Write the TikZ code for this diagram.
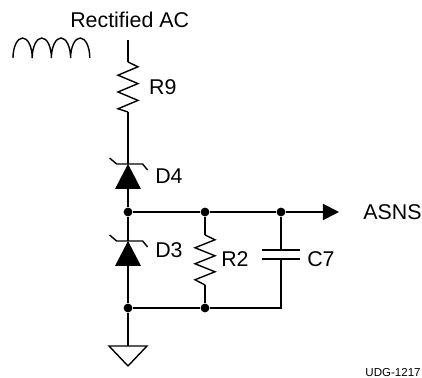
\documentclass[tikz,border=0pt]{standalone}
\usepackage{fontspec}
\setmainfont{Liberation Sans}
\usetikzlibrary{arrows.meta}
\tikzset{
  wire/.style={line width=0.045cm,color=cw0},
  thin wire/.style={line width=0.035cm,color=cw0},
  junction/.style={circle,fill=cw0,draw=none,inner sep=0pt,minimum size=0.22cm},
  tag/.style={inner sep=0pt,anchor=west,text=cw0,font=\fontsize{15.2pt}{18pt}\selectfont},
  smalltag/.style={inner sep=0pt,anchor=west,text=cw0,font=\fontsize{8.2pt}{10pt}\selectfont},
}
\begin{document}
\begin{tikzpicture}
%
\useasboundingbox (0,0) rectangle (10.55cm,9.45cm);
%
\definecolor{cw0}{rgb}{0.0,0.0,0.0}
%
\coordinate (ac) at (3.2cm,8.45cm);
\coordinate (r9t) at (3.2cm,7.9cm);
\coordinate (r9b) at (3.2cm,6.65cm);
\coordinate (d4k) at (3.2cm,5.35cm);
\coordinate (d4a) at (3.2cm,4.725cm);
\node[junction] (j0) at (3.2cm,4.15cm) {};
\node[junction] (j1) at (5.125cm,4.15cm) {};
\node[junction] (j2) at (7.025cm,4.15cm) {};
\coordinate (d3k) at (3.2cm,3.425cm);
\coordinate (d3a) at (3.2cm,2.8cm);
\node[junction] (j3) at (3.2cm,1.75cm) {};
\node[junction] (j4) at (5.125cm,1.75cm) {};
\coordinate (c7b) at (7.025cm,1.75cm);
\coordinate (c7p) at (7.025cm,3.2cm);
\coordinate (c7q) at (7.025cm,2.975cm);
\coordinate (r2t) at (5.125cm,3.575cm);
\coordinate (r2b) at (5.125cm,2.325cm);
\coordinate (gnd) at (3.2cm,0.8cm);
\coordinate (out) at (8.475cm,4.15cm);
%
\draw[wire] (ac) -- (r9t);
\draw[wire] (r9b) -- (d4k);
\draw[wire] (d4a) -- (j0);
\draw[wire] (j0) -- (d3k);
\draw[wire] (d3a) -- (j3);
\draw[wire] (j3) -- (gnd);
\draw[wire] (j0) -- (j1);
\draw[wire] (j1) -- (j2);
\draw[wire] (j3) -- (j4);
\draw[wire] (j4) -- (c7b) -- (c7q);
\draw[wire] (j1) -- (r2t);
\draw[wire] (r2b) -- (j4);
\draw[wire] (j2) -- (c7p);
\draw[wire,-{Triangle[length=0.4cm,width=0.4cm]}] (j2) -- (out);
%
\draw[thin wire] (r9t) -- ++(0.25,-0.12) -- ++(-0.5,-0.21) -- ++(0.5,-0.21) -- ++(-0.5,-0.21) -- ++(0.5,-0.21) -- ++(-0.5,-0.21) -- (r9b);
\draw[thin wire] (r2t) -- ++(0.25,-0.12) -- ++(-0.5,-0.2) -- ++(0.5,-0.2) -- ++(-0.5,-0.2) -- ++(0.5,-0.2) -- ++(-0.5,-0.2) -- (r2b);
%
\fill[cw0] (d4k) -- ++(-0.325,-0.625) -- ++(0.65,0) -- cycle;
\fill[cw0] (d3k) -- ++(-0.325,-0.625) -- ++(0.65,0) -- cycle;
\draw[thin wire] (d4k) ++(-0.46,0.15) -- ++(0.175,-0.15) -- ++(0.65,0) -- ++(0.125,-0.15);
\draw[thin wire] (d3k) ++(-0.46,0.15) -- ++(0.175,-0.15) -- ++(0.65,0) -- ++(0.125,-0.15);
%
\draw[wire] (c7p) ++(-0.475,0) -- ++(0.95,0);
\draw[wire] (c7q) ++(-0.475,0) -- ++(0.95,0);
%
\draw[thin wire] (gnd) ++(-0.475,0) -- ++(0.95,0) -- ++(-0.475,-0.5) -- cycle;
%
\draw[thin wire] (0.325,8.0) arc (180:0:0.24 and 0.5) arc (180:0:0.24 and 0.5) arc (180:0:0.24 and 0.5) arc (180:0:0.24 and 0.5);
%
\node[tag] (lac) at (1.75,8.95) {Rectified AC};
\node[tag] (lr9) at (3.72,7.275) {R9};
\node[tag] (ld4) at (3.875,5.05) {D4};
\node[tag] (ld3) at (3.875,3.2) {D3};
\node[tag] (lr2) at (5.525,2.975) {R2};
\node[tag] (lc7) at (7.675,2.975) {C7};
\node[tag] (lasns) at (9.08,4.15) {ASNS};
\node[smalltag] (ludg) at (9.13,0.14) {UDG-1217};
%
\end{tikzpicture}
\end{document}
